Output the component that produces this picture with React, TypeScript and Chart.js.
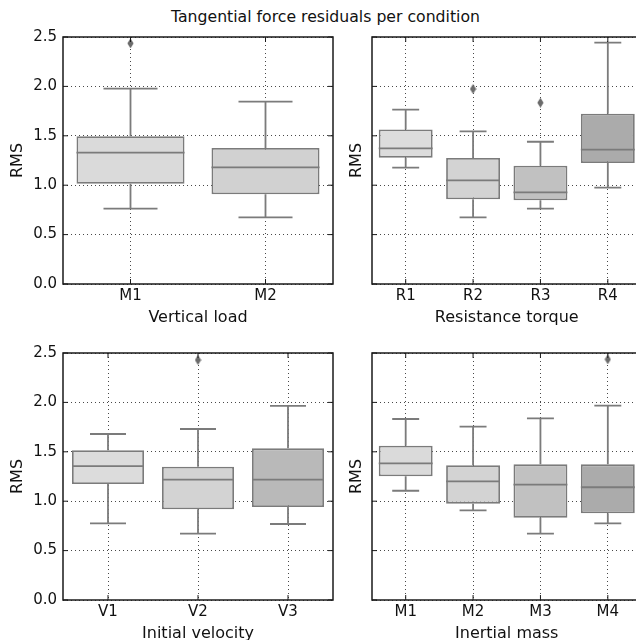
import React, { useEffect, useRef } from 'react';
import { Chart, registerables } from 'chart.js';
Chart.register(...registerables);

const FONT = '"DejaVu Sans", sans-serif';

const TITLE = 'Tangential force residuals per condition';
const Y_LABEL = 'RMS';
const Y_MIN = 0;
const Y_MAX = 2.5;
const Y_STEP = 0.5;

// Vertical load
const loadTitle = 'Vertical load';
const loadCats = ['M1', 'M2'];
const loadLow = [0.762, 0.675];
const loadQ1 = [1.015, 0.908];
const loadMed = [1.329, 1.181];
const loadQ3 = [1.495, 1.377];
const loadHigh = [1.977, 1.845];
const loadOut = [2.436, null];
const loadColors = ['#dadada', '#d1d1d1'];

// Resistance torque
const torqueTitle = 'Resistance torque';
const torqueCats = ['R1', 'R2', 'R3', 'R4'];
const torqueLow = [1.177, 0.675, 0.762, 0.975];
const torqueQ1 = [1.279, 0.857, 0.847, 1.225];
const torqueMed = [1.373, 1.049, 0.928, 1.36];
const torqueQ3 = [1.565, 1.275, 1.197, 1.724];
const torqueHigh = [1.764, 1.545, 1.44, 2.443];
const torqueOut = [null, 1.974, 1.835, null];
const torqueColors = ['#dcdcdc', '#d3d3d3', '#c1c1c1', '#ababab'];

// Initial velocity
const velTitle = 'Initial velocity';
const velCats = ['V1', 'V2', 'V3'];
const velLow = [0.776, 0.671, 0.769];
const velQ1 = [1.174, 0.918, 0.941];
const velMed = [1.356, 1.218, 1.218];
const velQ3 = [1.515, 1.349, 1.535];
const velHigh = [1.68, 1.731, 1.964];
const velOut = [null, 2.429, null];
const velColors = ['#dcdcdc', '#d3d3d3', '#b9b9b9'];

// Inertial mass
const massTitle = 'Inertial mass';
const massCats = ['M1', 'M2', 'M3', 'M4'];
const massLow = [1.106, 0.908, 0.671, 0.776];
const massQ1 = [1.252, 0.975, 0.833, 0.877];
const massMed = [1.383, 1.201, 1.167, 1.141];
const massQ3 = [1.562, 1.363, 1.373, 1.373];
const massHigh = [1.832, 1.754, 1.839, 1.967];
const massOut = [null, null, null, 2.436];
const massColors = ['#dadada', '#d3d3d3', '#c1c1c1', '#ababab'];

const EDGE = '#7b7b7b';
const SPINE = '#1a1a1a';
const TEXT = '#111111';

type PanelProps = {
  cats: string[];
  low: number[];
  q1: number[];
  med: number[];
  q3: number[];
  high: number[];
  out: (number | null)[];
  colors: string[];
  xTitle: string;
  showYTicks: boolean;
  left: number;
  top: number;
  width: number;
  height: number;
  padTop: number;
  padRight: number;
  yWidth: number;
  xHeight: number;
  yTitlePad: number;
  xTitlePad: number;
};

function makeDiamond(): HTMLCanvasElement {
  const c = document.createElement('canvas');
  c.width = 7;
  c.height = 10;
  const g = c.getContext('2d')!;
  g.fillStyle = '#6b6b6b';
  g.beginPath();
  g.moveTo(3.5, 0);
  g.lineTo(6.6, 5);
  g.lineTo(3.5, 10);
  g.lineTo(0.4, 5);
  g.closePath();
  g.fill();
  return c;
}

function Panel(p: PanelProps) {
  const ref = useRef<HTMLCanvasElement | null>(null);
  useEffect(() => {
    if (!ref.current) return;
    const tickFont = { family: FONT, size: 15 };
    const titleFont = { family: FONT, size: 16 };
    const yTicks: number[] = [];
    for (let v = Y_MIN; v <= Y_MAX + 1e-9; v += Y_STEP) yTicks.push(v);

    const extras = {
      id: 'boxExtras',
      beforeDatasetsDraw(chart: any) {
        const { ctx } = chart;
        const ys = chart.scales.y;
        const meta = chart.getDatasetMeta(0);
        ctx.save();
        ctx.strokeStyle = EDGE;
        ctx.lineWidth = 1.8;
        meta.data.forEach((bar: any, i: number) => {
          const cx = bar.x;
          const hw = bar.width / 4;
          const yHi = ys.getPixelForValue(p.high[i]);
          const yLo = ys.getPixelForValue(p.low[i]);
          const yQ3 = ys.getPixelForValue(p.q3[i]);
          const yQ1 = ys.getPixelForValue(p.q1[i]);
          ctx.beginPath();
          ctx.moveTo(cx, yQ3);
          ctx.lineTo(cx, yHi);
          ctx.moveTo(cx - hw, yHi);
          ctx.lineTo(cx + hw, yHi);
          ctx.moveTo(cx, yQ1);
          ctx.lineTo(cx, yLo);
          ctx.moveTo(cx - hw, yLo);
          ctx.lineTo(cx + hw, yLo);
          ctx.stroke();
        });
        ctx.restore();
      },
      afterDatasetsDraw(chart: any) {
        const { ctx, chartArea } = chart;
        const ys = chart.scales.y;
        const xs = chart.scales.x;
        const meta = chart.getDatasetMeta(0);
        ctx.save();
        ctx.strokeStyle = EDGE;
        ctx.lineWidth = 1.8;
        meta.data.forEach((bar: any, i: number) => {
          const cx = bar.x;
          const hw = bar.width / 2;
          const ym = ys.getPixelForValue(p.med[i]);
          ctx.beginPath();
          ctx.moveTo(cx - hw, ym);
          ctx.lineTo(cx + hw, ym);
          ctx.stroke();
        });
        ctx.strokeStyle = SPINE;
        ctx.lineWidth = 1.5;
        ctx.strokeRect(chartArea.left, chartArea.top, chartArea.right - chartArea.left, chartArea.bottom - chartArea.top);
        ctx.lineWidth = 1;
        ctx.beginPath();
        yTicks.forEach((v) => {
          const y = ys.getPixelForValue(v);
          ctx.moveTo(chartArea.left, y);
          ctx.lineTo(chartArea.left + 5, y);
          ctx.moveTo(chartArea.right, y);
          ctx.lineTo(chartArea.right - 5, y);
        });
        p.cats.forEach((_, i) => {
          const x = xs.getPixelForValue(i);
          ctx.moveTo(x, chartArea.bottom);
          ctx.lineTo(x, chartArea.bottom - 5);
          ctx.moveTo(x, chartArea.top);
          ctx.lineTo(x, chartArea.top + 5);
        });
        ctx.stroke();
        ctx.restore();
      },
    };

    const chart = new Chart(ref.current, {
      type: 'bar',
      data: {
        labels: p.cats,
        datasets: [
          {
            type: 'bar',
            data: p.cats.map((_, i) => [p.q1[i], p.q3[i]]) as any,
            backgroundColor: p.colors,
            borderColor: EDGE,
            borderWidth: 1.8,
            borderSkipped: false,
            barPercentage: 0.8,
            categoryPercentage: 1.0,
          },
          {
            type: 'line',
            data: p.out as any,
            showLine: false,
            pointStyle: makeDiamond() as any,
            pointRadius: 5,
            pointHoverRadius: 5,
          } as any,
        ],
      },
      options: {
        responsive: false,
        animation: false,
        events: [],
        layout: { padding: { top: p.padTop, right: p.padRight, left: 0, bottom: 0 } },
        plugins: { legend: { display: false }, tooltip: { enabled: false }, title: { display: false } },
        scales: {
          x: {
            type: 'category',
            offset: true,
            grid: { offset: false, color: 'rgba(0,0,0,0.8)', lineWidth: 0.9, drawTicks: false },
            border: { display: false, dash: [1, 3] },
            ticks: { color: TEXT, font: tickFont, padding: 3 },
            title: { display: true, text: p.xTitle, color: TEXT, font: titleFont, padding: { top: 0, bottom: p.xTitlePad } },
            afterFit: (s: any) => {
              s.height = p.xHeight;
            },
          },
          y: {
            min: Y_MIN,
            max: Y_MAX,
            grid: { color: 'rgba(0,0,0,0.8)', lineWidth: 0.9, drawTicks: false },
            border: { display: false, dash: [1, 3] },
            ticks: {
              display: p.showYTicks,
              stepSize: Y_STEP,
              color: TEXT,
              font: tickFont,
              padding: 6,
              callback: (v: any) => Number(v).toFixed(1),
            },
            title: { display: true, text: Y_LABEL, color: TEXT, font: titleFont, padding: { top: p.yTitlePad, bottom: 0 } },
            afterFit: (s: any) => {
              s.width = p.yWidth;
            },
          },
        },
      } as any,
      plugins: [extras as any],
    });
    return () => chart.destroy();
  }, []);
  return (
    <canvas
      ref={ref}
      width={p.width}
      height={p.height}
      style={{ position: 'absolute', left: p.left, top: p.top, width: p.width, height: p.height }}
    />
  );
}

export default function App() {
  const topRow = { top: 0, height: 330, padTop: 37, xHeight: 46, xTitlePad: 2.4 };
  const botRow = { top: 310, height: 340, padTop: 43, xHeight: 50, xTitlePad: 6.4 };
  const leftCol = { left: 0, width: 340, padRight: 7, yWidth: 63, yTitlePad: 8.4, showYTicks: true };
  const rightCol = { left: 340, width: 310, padRight: 8.5, yWidth: 32, yTitlePad: 7.4, showYTicks: false };
  return (
    <div
      style={{
        position: 'fixed',
        left: 0,
        top: 0,
        width: 636,
        height: 640,
        overflow: 'hidden',
        background: '#ffffff',
      }}
    >
      <div
        style={{
          position: 'absolute',
          left: 325.5,
          top: 8,
          transform: 'translateX(-50%)',
          whiteSpace: 'nowrap',
          fontFamily: FONT,
          fontSize: 15.7,
          lineHeight: '18px',
          color: TEXT,
        }}
      >
        {TITLE}
      </div>
      <Panel
        cats={loadCats} low={loadLow} q1={loadQ1} med={loadMed} q3={loadQ3} high={loadHigh} out={loadOut}
        colors={loadColors} xTitle={loadTitle} {...topRow} {...leftCol}
      />
      <Panel
        cats={torqueCats} low={torqueLow} q1={torqueQ1} med={torqueMed} q3={torqueQ3} high={torqueHigh} out={torqueOut}
        colors={torqueColors} xTitle={torqueTitle} {...topRow} {...rightCol}
      />
      <Panel
        cats={velCats} low={velLow} q1={velQ1} med={velMed} q3={velQ3} high={velHigh} out={velOut}
        colors={velColors} xTitle={velTitle} {...botRow} {...leftCol}
      />
      <Panel
        cats={massCats} low={massLow} q1={massQ1} med={massMed} q3={massQ3} high={massHigh} out={massOut}
        colors={massColors} xTitle={massTitle} {...botRow} {...rightCol}
      />
    </div>
  );
}
